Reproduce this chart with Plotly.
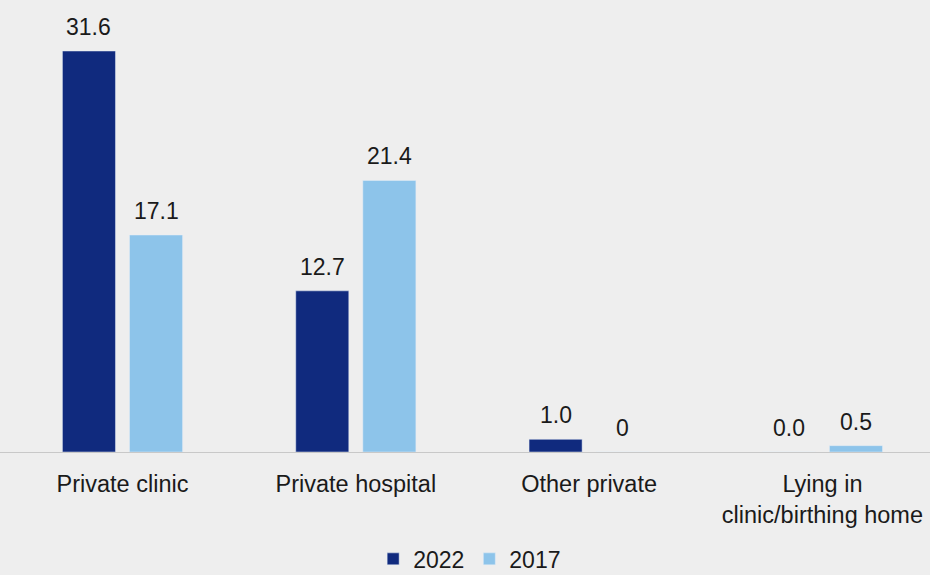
import plotly.graph_objects as go

categories = ["Private clinic", "Private hospital", "Other private", "Lying in<br>clinic/birthing home"]
values_2022 = [31.6, 12.7, 1.0, 0.0]
values_2017 = [17.1, 21.4, 0, 0.5]
labels_2022 = ["31.6", "12.7", "1.0", "0.0"]
labels_2017 = ["17.1", "21.4", "0", "0.5"]

dark = "#102a7e"
light = "#8dc4ea"
bg = "#eeeeee"
family = "Liberation Sans, Arial, sans-serif"
label_font = dict(family=family, size=23, color="#1a1a1a")
tick_font = dict(family=family, size=23.5, color="#1a1a1a")

bargap = 0.425
bargroupgap = 0.209
half_slot = (1 - bargap) / 4  # offset of each bar centre from category centre

fig = go.Figure()
fig.add_trace(go.Bar(name="2022", x=categories, y=values_2022, marker_color=dark))
fig.add_trace(go.Bar(name="2017", x=categories, y=values_2017, marker_color=light))

annotations = []
for i, (v, t) in enumerate(zip(values_2022, labels_2022)):
    annotations.append(dict(x=i - half_slot, y=v, xref="x", yref="y", text=t, showarrow=False,
                            yanchor="bottom", yshift=9, font=label_font))
for i, (v, t) in enumerate(zip(values_2017, labels_2017)):
    annotations.append(dict(x=i + half_slot, y=v, xref="x", yref="y", text=t, showarrow=False,
                            yanchor="bottom", yshift=9, font=label_font))

fig.update_layout(
    width=930, height=575,
    barmode="group", bargap=bargap, bargroupgap=bargroupgap,
    paper_bgcolor=bg, plot_bgcolor=bg,
    margin=dict(l=0, r=0, t=0, b=123, autoexpand=False),
    font=label_font,
    showlegend=True,
    legend=dict(orientation="h", xanchor="center", x=0.505, yref="container", yanchor="middle", y=0.028,
                font=label_font, itemwidth=30, bgcolor="rgba(0,0,0,0)", traceorder="normal"),
    xaxis=dict(range=[-0.525, 3.461], showline=True, linecolor="#c8c8c8", linewidth=1, automargin=False,
               ticks="", showgrid=False, tickfont=tick_font, ticklabelstandoff=11, zeroline=False),
    yaxis=dict(range=[0, 35.62], visible=False, showgrid=False, zeroline=False, automargin=False),
    annotations=annotations,
)

fig.write_html("out.html", config={"displayModeBar": False},
               post_script="document.body.style.margin='0';document.body.style.background='%s';" % bg)
